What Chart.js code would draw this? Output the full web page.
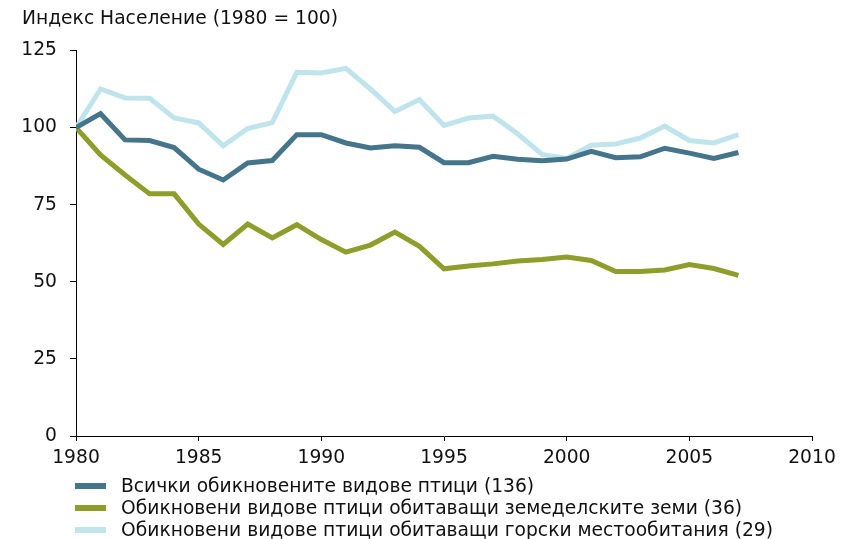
<!DOCTYPE html>
<html>
<head>
<meta charset="utf-8">
<script src="https://cdn.jsdelivr.net/npm/chart.js@4"></script>
<style>
    html, body { margin: 0; padding: 0; background: #fff; }
    #wrap { width: 848px; height: 539px; }
</style>
</head>
<body>
<div id="wrap"><canvas id="birdChart" width="848" height="539"></canvas></div>
<script>
const years = [1980, 1981, 1982, 1983, 1984, 1985, 1986, 1987, 1988, 1989,
    1990, 1991, 1992, 1993, 1994, 1995, 1996, 1997, 1998, 1999,
    2000, 2001, 2002, 2003, 2004, 2005, 2006, 2007];

const allBirds = [100, 104.5, 96, 95.8, 93.5, 86.5, 83, 88.5, 89.3, 97.7,
    97.7, 95, 93.4, 94.1, 93.6, 88.6, 88.6, 90.7, 89.7, 89.2,
    89.8, 92.3, 90.2, 90.5, 93.3, 91.7, 90, 91.9];

const farmlandBirds = [100, 91.1, 84.6, 78.5, 78.5, 68.7, 62.1, 68.7, 64.2, 68.5,
    63.7, 59.6, 61.9, 66.1, 61.5, 54.2, 55.1, 55.8, 56.7, 57.2,
    58, 56.9, 53.3, 53.3, 53.8, 55.6, 54.3, 52.1];

const forestBirds = [100, 112.5, 109.6, 109.5, 103.1, 101.5, 94.1, 99.7, 101.6, 117.9,
    117.7, 119.2, 112.5, 105.2, 109.1, 100.7, 103.1, 103.7, 98, 91.3,
    90, 94.3, 94.7, 96.6, 100.5, 95.8, 95, 97.7];

const seriesLabels = [
    "Всички обикновените видове птици (136)",
    "Обикновени видове птици обитаващи земеделските земи (36)",
    "Обикновени видове птици обитаващи горски местообитания (29)"
];
const seriesColors = ["#44758a", "#8d9e2a", "#bfe4eb"];

const xMin = 1980, xMax = 2010, xStep = 5;
const yMin = 0, yMax = 125, yStep = 25;
const yTitle = "Индекс Население (1980 = 100)";

const FONT = "'DejaVu Sans', Verdana, sans-serif";
const FONT_SIZE = 18.7;

const toPoints = values => values.map((v, i) => ({ x: years[i], y: v }));

// Legend stacked one item per row under the x axis
const stackedLegend = {
    id: "stackedLegend",
    afterDraw(chart) {
        const { ctx, chartArea } = chart;
        ctx.save();
        ctx.font = FONT_SIZE + "px " + FONT;
        ctx.textBaseline = "middle";
        ctx.fillStyle = "#111";
        chart.data.datasets.forEach((ds, i) => {
            const y = chartArea.bottom + 50 + i * 22;
            ctx.strokeStyle = ds.borderColor;
            ctx.lineWidth = 6;
            ctx.beginPath();
            ctx.moveTo(chartArea.left - 1, y);
            ctx.lineTo(chartArea.left + 30, y);
            ctx.stroke();
            ctx.fillText(ds.label, chartArea.left + 45, y + 1);
        });
        ctx.restore();
    }
};

const datasets = [allBirds, farmlandBirds, forestBirds].map((values, i) => ({
    label: seriesLabels[i],
    data: toPoints(values),
    borderColor: seriesColors[i],
    backgroundColor: seriesColors[i],
    borderWidth: 5,
    pointRadius: 0,
    fill: false,
    tension: 0
}));
// light series is drawn under the others
datasets[2].order = 3;
datasets[1].order = 2;
datasets[0].order = 1;

new Chart(document.getElementById("birdChart"), {
    type: "line",
    data: { datasets },
    plugins: [stackedLegend],
    options: {
        responsive: false,
        animation: false,
        layout: { padding: { left: 22, right: 36, top: 0, bottom: 73 } },
        plugins: {
            legend: { display: false },
            tooltip: { enabled: false },
            title: {
                display: true,
                text: yTitle,
                align: "start",
                color: "#111",
                font: { family: FONT, size: FONT_SIZE, weight: "normal" },
                padding: { top: 8, bottom: 20 }
            }
        },
        scales: {
            x: {
                type: "linear",
                min: xMin,
                max: xMax,
                afterFit: scale => { scale.height = 30; },
                ticks: {
                    stepSize: xStep,
                    color: "#111",
                    font: { family: FONT, size: FONT_SIZE },
                    padding: 6,
                    maxRotation: 0,
                    callback: v => String(v)
                },
                grid: { drawOnChartArea: false, drawTicks: true, tickLength: 5, color: "#000" },
                border: { color: "#000", width: 1 }
            },
            y: {
                min: yMin,
                max: yMax,
                afterFit: scale => { scale.width = 54; },
                ticks: {
                    stepSize: yStep,
                    color: "#111",
                    font: { family: FONT, size: FONT_SIZE },
                    padding: 13
                },
                grid: { drawOnChartArea: false, drawTicks: true, tickLength: 6, color: "#000" },
                border: { color: "#000", width: 1 }
            }
        }
    }
});
</script>
</body>
</html>
